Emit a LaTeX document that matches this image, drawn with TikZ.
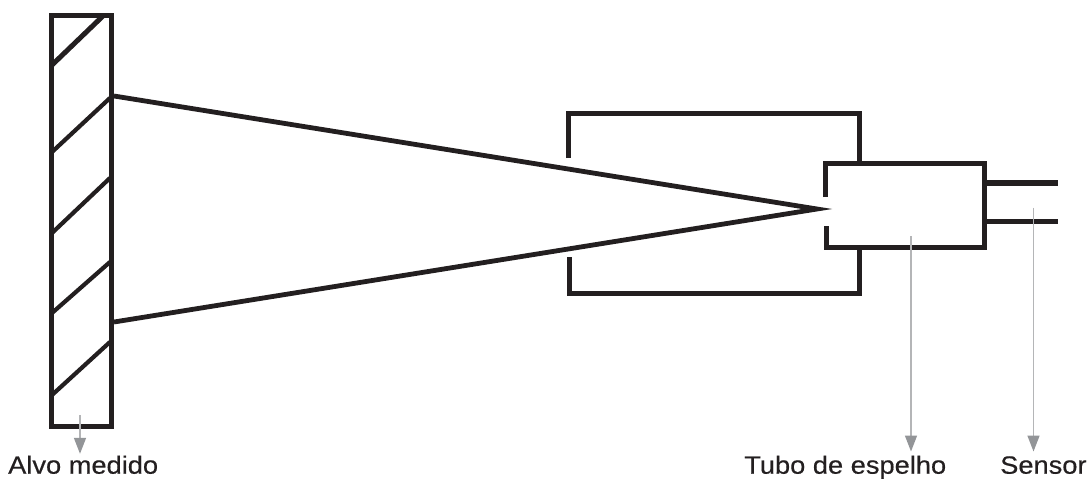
\documentclass[tikz,border=0pt]{standalone}
\usepackage{fontspec}
\setmainfont{Liberation Sans}
\newfontfamily\lblfont[FakeBold=0.4,FakeStretch=1.09]{Liberation Sans}
\usetikzlibrary{arrows.meta}
\definecolor{ink}{HTML}{231F20}
\definecolor{leader}{HTML}{B4B5B7}
\definecolor{leadtip}{HTML}{939598}
\tikzset{
  wall/.style={draw=ink,line width=5pt,miter limit=10},
  thin wall/.style={draw=ink,line width=4.5pt},
  hatch/.style={draw=ink,line width=4.2pt},
  beam/.style={draw=ink,line width=4.8pt,miter limit=12,line join=miter},
  leadline/.style={draw=leader,line width=1.5pt,-{Triangle[length=16pt,width=12pt,color=leadtip]}},
  lbl/.style={inner sep=0pt,anchor=base west,text=ink,font=\lblfont\fontsize{25}{30}\selectfont,text height=22pt}
}
\begin{document}
\begin{tikzpicture}[x=1pt,y=-1pt]
\useasboundingbox (0,0) rectangle (1089,479);
% target
\draw[wall] (51.5,15.5) rectangle (111.5,426.5);
\draw[hatch,line width=5pt] (104,15) -- (52,65);
\draw[hatch] (110,98) -- (52,152);
\draw[hatch] (110,178) -- (52,233);
\draw[hatch] (110,262) -- (52,313);
\draw[hatch] (110,342) -- (52,395);
% beam
\draw[beam] (114,96) -- (817,209) -- (114,322);
% outer tube
\draw[wall] (568,158) -- (568,113.2) -- (859.5,113.2) -- (859.5,163);
\draw[wall] (569.5,257) -- (569.5,293.5) -- (859.5,293.5) -- (859.5,247);
% inner tube
\draw[wall] (825.8,197) -- (825.8,163.2) -- (984.2,163.2) -- (984.2,247) -- (826,247) -- (826,226);
% sensor leads
\draw[draw=ink,line width=5.5pt] (986,183) -- (1058,183);
\draw[thin wall] (986,221.7) -- (1058,221.7);
% labels
\node[lbl] (alvo) at (8,473.7) {Alvo medido};
\node[lbl] (tubo) at (744,473.7) {Tubo de espelho};
\node[lbl] (sensor) at (1000,473.7) {Sensor};
% leaders
\coordinate (alvoStart) at (80,415);
\coordinate (tuboStart) at (911,236);
\coordinate (sensorStart) at (1033.5,207.7);
\draw[leadline,shorten >=-2.3pt] (alvoStart) -- (alvoStart |- alvo.north);
\draw[leadline] (tuboStart) -- (tuboStart |- tubo.north);
\draw[leadline] (sensorStart) -- (sensorStart |- sensor.north);
\end{tikzpicture}
\end{document}
